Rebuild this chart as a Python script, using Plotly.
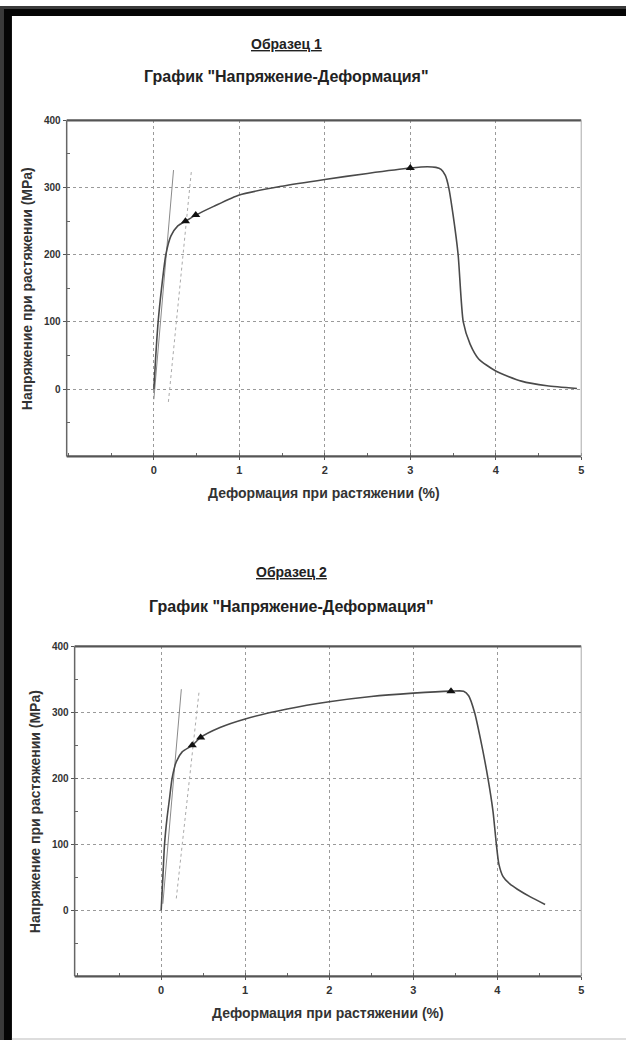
import plotly.graph_objects as go

W, H = 629, 1040

# ---- data ----
strain1 = [0, 0.02, 0.05, 0.09, 0.14, 0.20, 0.28, 0.37, 0.49, 0.70, 1.0, 1.5, 2.0, 2.5, 3.0,
           3.2, 3.3, 3.36, 3.41, 3.45, 3.50, 3.56, 3.62, 3.70, 3.80, 4.0, 4.3, 4.6, 4.95]
stress1 = [0, 45, 100, 150, 200, 228, 243, 250, 259, 272, 289, 302, 312, 321, 329,
           331, 330, 327, 318, 300, 260, 200, 100, 67, 45, 27, 12, 5, 1]
mod1a_x = [0.0, 0.23]
mod1a_y = [-15, 326]
mod1b_x = [0.17, 0.44]
mod1b_y = [-19, 326]
yield1_x = [0.37, 0.49]
yield1_y = [250, 259]
peak1_x = [3.0]
peak1_y = [329]

strain2 = [0, 0.02, 0.04, 0.07, 0.10, 0.13, 0.18, 0.25, 0.37, 0.47, 0.70, 1.0, 1.5, 2.0, 2.5,
           3.0, 3.45, 3.60, 3.66, 3.73, 3.80, 3.89, 3.95, 3.99, 4.02, 4.07, 4.15, 4.24, 4.40, 4.57]
stress2 = [0, 50, 100, 140, 170, 200, 225, 240, 250, 262, 277, 290, 305, 316, 324,
           329, 332, 332, 325, 300, 260, 200, 150, 100, 70, 51, 40, 32, 20, 9]
mod2a_x = [0.02, 0.24]
mod2a_y = [10, 335]
mod2b_x = [0.18, 0.45]
mod2b_y = [18, 330]
yield2_x = [0.37, 0.47]
yield2_y = [250, 262]
peak2_x = [3.45]
peak2_y = [332]

x_ticks = [0, 1, 2, 3, 4, 5]
y_ticks = [0, 100, 200, 300, 400]
title_main = 'График "Напряжение-Деформация"'
sample_titles = ["Образец 1", "Образец 2"]
x_title = "Деформация при растяжении (%)"
y_title = "Напряжение при растяжении (MPa)"

FONT = "Liberation Sans"
CURVE = "#4a4a4a"
MODC = "#8a8a8a"

def px(x):
    return x / W

def py(y):
    return 1 - y / H

# plot boxes in pixels: (left, top, right, bottom)
boxes = [(67, 115, 584, 453), (75, 644, 584, 976)]
xranges = [[-1.02, 5.0], [-1.03, 5.0]]

fig = go.Figure()

samples = [
    (strain1, stress1, mod1a_x, mod1a_y, mod1b_x, mod1b_y, yield1_x, yield1_y, peak1_x, peak1_y),
    (strain2, stress2, mod2a_x, mod2a_y, mod2b_x, mod2b_y, yield2_x, yield2_y, peak2_x, peak2_y),
]

for i, (sx, sy, ax_, ay_, bx_, by_, yx, yy, pkx, pky) in enumerate(samples):
    xa = "x" if i == 0 else "x2"
    ya = "y" if i == 0 else "y2"
    fig.add_trace(go.Scatter(x=ax_, y=ay_, mode="lines", line=dict(color=MODC, width=1),
                             xaxis=xa, yaxis=ya, showlegend=False, hoverinfo="skip"))
    fig.add_trace(go.Scatter(x=bx_, y=by_, mode="lines", line=dict(color="#aaaaaa", width=1, dash="dot"),
                             xaxis=xa, yaxis=ya, showlegend=False, hoverinfo="skip"))
    fig.add_trace(go.Scatter(x=sx, y=sy, mode="lines",
                             line=dict(color=CURVE, width=1.6, shape="spline", smoothing=0.6),
                             xaxis=xa, yaxis=ya, showlegend=False))
    fig.add_trace(go.Scatter(x=yx + pkx, y=yy + pky, mode="markers",
                             marker=dict(symbol="triangle-up", size=8, color="#111111"),
                             xaxis=xa, yaxis=ya, showlegend=False))

layout = dict(
    width=W, height=H,
    margin=dict(l=0, r=0, t=0, b=0),
    paper_bgcolor="white", plot_bgcolor="white",
    font=dict(family=FONT, color="#333333"),
)

axis_common_x = dict(
    tickvals=x_ticks, ticktext=[f"<b>{t}</b>" for t in x_ticks],
    showgrid=True, gridcolor="#9a9a9a", griddash="dot", gridwidth=1,
    zeroline=False, showline=False, ticks="outside", ticklen=3, tickcolor="#555",
    tickfont=dict(size=11, color="#333", family=FONT),
    minor=dict(dtick=0.5, tick0=0, ticks="inside", ticklen=3, tickcolor="#666", showgrid=False),
)
axis_common_y = dict(
    tickvals=y_ticks, ticktext=[f"<b>{t}</b>" for t in y_ticks],
    range=[-100, 400],
    showgrid=True, gridcolor="#9a9a9a", griddash="dot", gridwidth=1,
    zeroline=False, showline=False, ticks="outside", ticklen=3, tickcolor="#555",
    tickfont=dict(size=10, color="#333", family=FONT),
    minor=dict(dtick=50, tick0=0, ticks="inside", ticklen=3, tickcolor="#666", showgrid=False),
)

shapes = []
annotations = []
for i, (l, t, r, b) in enumerate(boxes):
    xk = "xaxis" if i == 0 else "xaxis2"
    yk = "yaxis" if i == 0 else "yaxis2"
    xa = "x" if i == 0 else "x2"
    ya = "y" if i == 0 else "y2"
    layout[xk] = dict(axis_common_x, domain=[px(l), px(r)], range=xranges[i], anchor=ya)
    layout[yk] = dict(axis_common_y, domain=[py(b), py(t)], anchor=xa)
    xd, yd = f"{xa} domain", f"{ya} domain"
    # frame
    shapes.append(dict(type="line", xref=xd, yref=yd, x0=0, x1=1, y0=1, y1=1, line=dict(color="#555", width=2.2)))
    shapes.append(dict(type="line", xref=xd, yref=yd, x0=0, x1=1, y0=0, y1=0, line=dict(color="#555", width=2.2)))
    shapes.append(dict(type="line", xref=xd, yref=yd, x0=0, x1=0, y0=0, y1=1, line=dict(color="#666", width=1.5)))
    shapes.append(dict(type="line", xref=xd, yref=yd, x0=1, x1=1, y0=0, y1=1, line=dict(color="#aaa", width=1)))
    cx = (l + r) / 2
    cy = (t + b) / 2
    annotations.append(dict(text=f"<b>{x_title}</b>", x=px(cx), y=py(b + 37), xref="paper", yref="paper",
                            xanchor="center", yanchor="middle",
                            showarrow=False, font=dict(size=14, color="#333", family=FONT)))
    annotations.append(dict(text=f"<b>{y_title}</b>", x=px(l - 40), y=py(cy), xref="paper", yref="paper",
                            xanchor="center", yanchor="middle",
                            showarrow=False, textangle=-90, font=dict(size=14, color="#333", family=FONT)))

title_y = [(38, 71), (569, 604)]
title_x = [288, 293]
for i, (y1, y2) in enumerate(title_y):
    annotations.append(dict(text=f"<b><u>{sample_titles[i]}</u></b>", x=px(title_x[i]), y=py(y1),
                            xref="paper", yref="paper", showarrow=False,
                            xanchor="center", yanchor="middle",
                            font=dict(size=14, color="#222", family=FONT)))
    annotations.append(dict(text=f"<b>{title_main}</b>", x=px(title_x[i]), y=py(y2),
                            xref="paper", yref="paper", showarrow=False,
                            xanchor="center", yanchor="middle",
                            font=dict(size=16, color="#222", family=FONT)))

# scanned page border
shapes.append(dict(type="rect", xref="paper", yref="paper", x0=0, x1=px(12), y0=0, y1=1,
                   fillcolor="#050505", line=dict(width=0), layer="above"))
shapes.append(dict(type="rect", xref="paper", yref="paper", x0=0, x1=1, y0=py(10), y1=1,
                   fillcolor="#050505", line=dict(width=0), layer="above"))
shapes.append(dict(type="rect", xref="paper", yref="paper", x0=0, x1=px(4), y0=0, y1=1,
                   fillcolor="#3a3a3a", line=dict(width=0), layer="above"))
shapes.append(dict(type="rect", xref="paper", yref="paper", x0=0, x1=1, y0=py(3), y1=1,
                   fillcolor="#3a3a3a", line=dict(width=0), layer="above"))
shapes.append(dict(type="rect", xref="paper", yref="paper", x0=px(12), x1=1, y0=0, y1=py(1038),
                   fillcolor="#dddddd", line=dict(width=0), layer="above"))

layout["shapes"] = shapes
layout["annotations"] = annotations
fig.update_layout(**layout)

fig.write_html("out.html",
               config={"displayModeBar": False},
               post_script="document.body.style.margin='0';document.body.style.overflow='hidden';")
